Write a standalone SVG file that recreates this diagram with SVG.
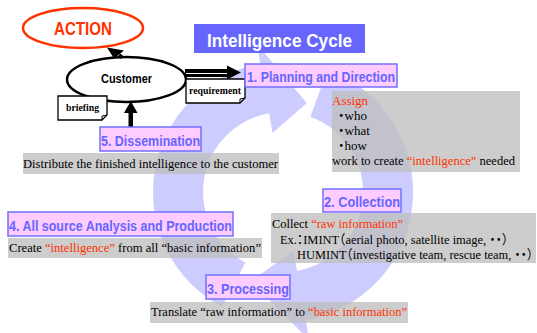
<svg xmlns="http://www.w3.org/2000/svg" width="537" height="333" viewBox="0 0 537 333">
<style>
.ring{fill:#ccccff;stroke:none}
.grey{fill:#bfbfbf;fill-opacity:0.78;stroke:none}
.step{fill:#ffccff;stroke:#7070ff;stroke-width:1.5}
.steptxt{font-family:"Liberation Sans","Noto Sans CJK JP",sans-serif;font-weight:bold;font-size:14px;fill:#6666ff}
.body{font-family:"Liberation Serif","Noto Sans CJK JP",serif;font-size:13px;fill:#000;font-feature-settings:"halt"}
.red{fill:#ff3300}
.note{fill:#fff;stroke:#000;stroke-width:1.3}
.notetxt{font-family:"Liberation Serif",serif;font-weight:bold;font-size:10px;fill:#000}
</style>
<rect width="537" height="333" fill="#fff"/>
<g id="cycle-ring">
<path class="ring" d="M245.4,262.6 L222.0,306.8 A130,130 0 0 1 260.4,64.0 L257.0,44.3 L306.8,103.1 L272.6,132.9 L269.1,113.2 A80,80 0 0 0 245.4,262.6 Z"/>
<path class="ring" d="M310.4,116.8 L327.5,69.8 A130,130 0 0 1 305.6,320.0 L309.0,339.7 L250.5,281.3 L293.4,251.1 L296.9,270.8 A80,80 0 0 0 310.4,116.8 Z"/>
</g>
<g id="title">
<rect x="194" y="24" width="171" height="29" fill="#6666ff"/>
<text x="207" y="47" font-family="Liberation Sans, sans-serif" font-weight="bold" font-size="19" fill="#fff" textLength="145" lengthAdjust="spacingAndGlyphs">Intelligence Cycle</text>
</g>
<g id="action">
<ellipse cx="83" cy="28" rx="60" ry="20" fill="#fff" stroke="#ff3300" stroke-width="2.5"/>
<text x="54" y="35" font-family="Liberation Sans, sans-serif" font-weight="bold" font-size="18" fill="#ff3300" textLength="58" lengthAdjust="spacingAndGlyphs">ACTION</text>
</g>
<g id="customer">
<ellipse cx="126.5" cy="79.5" rx="59.5" ry="22.5" fill="#fff" stroke="#000" stroke-width="2.5"/>
<text x="101" y="83" font-family="Liberation Sans, sans-serif" font-weight="bold" font-size="12" fill="#000" textLength="51" lengthAdjust="spacingAndGlyphs">Customer</text>
</g>
<g id="connectors">
<polygon points="107,47.5 124,50.5 114,58.5" fill="#000"/>
<path d="M119,55 L122,57.5" stroke="#000" stroke-width="4" fill="none"/>
<rect x="185" y="69" width="43" height="8" fill="#000"/>
<line x1="186" y1="73.5" x2="228" y2="73.5" stroke="#fff" stroke-width="1.2"/>
<polygon points="227,65.5 241,72.5 227,79.5" fill="#000"/>
<rect x="128.5" y="110" width="4.5" height="18" fill="#000"/>
<polygon points="124,113 130.8,101 137.5,113" fill="#000"/>
</g>
<g id="requirement-note">
<path class="note" d="M186,79 H245 V98 L240,103 H186 Z"/>
<path d="M245,98 L240,99 L240,103" fill="none" stroke="#000" stroke-width="1"/>
<text class="notetxt" x="189" y="94" textLength="52" lengthAdjust="spacingAndGlyphs">requirement</text>
</g>
<g id="briefing-note">
<path class="note" d="M58,96 H107 V115 L102,120 H58 Z"/>
<path d="M107,115 L102,116 L102,120" fill="none" stroke="#000" stroke-width="1"/>
<text class="notetxt" x="66" y="111" textLength="33" lengthAdjust="spacingAndGlyphs">briefing</text>
</g>
<g id="step1">
<rect class="step" x="245" y="64" width="152" height="23"/>
<text class="steptxt" x="247" y="82" textLength="148" lengthAdjust="spacingAndGlyphs">1. Planning and Direction</text>
<rect class="grey" x="332" y="91" width="188" height="81"/>
<text class="body red" x="332" y="105">Assign</text>
<text class="body" x="338" y="120">・who</text>
<text class="body" x="338" y="135">・what</text>
<text class="body" x="338" y="150">・how</text>
<text class="body" x="332" y="165" textLength="183" lengthAdjust="spacingAndGlyphs">work to create <tspan class="red">“intelligence”</tspan> needed</text>
</g>
<g id="step2">
<rect class="step" x="323" y="189" width="78" height="23"/>
<text class="steptxt" x="324" y="207" textLength="76" lengthAdjust="spacingAndGlyphs">2. Collection</text>
<rect class="grey" x="271" y="213" width="265" height="50"/>
<text class="body" x="272" y="228" textLength="131" lengthAdjust="spacingAndGlyphs">Collect <tspan class="red">“raw information”</tspan></text>
<text class="body" x="280" y="244" font-size="12" textLength="228" lengthAdjust="spacingAndGlyphs">Ex.：IMINT（aerial photo, satellite image, ・・）</text>
<text class="body" x="297" y="259" font-size="11" textLength="236" lengthAdjust="spacingAndGlyphs">HUMINT（investigative team, rescue team, ・・）</text>
</g>
<g id="step3">
<rect class="step" x="206" y="275" width="84" height="24"/>
<text class="steptxt" x="207" y="294" textLength="82" lengthAdjust="spacingAndGlyphs">3. Processing</text>
<rect class="grey" x="150" y="302" width="258" height="21"/>
<text class="body" x="151" y="316" textLength="256" lengthAdjust="spacingAndGlyphs">Translate “raw information” to <tspan class="red">“basic information”</tspan></text>
</g>
<g id="step4">
<rect class="step" x="8" y="212" width="225" height="24"/>
<text class="steptxt" x="9" y="231" textLength="223" lengthAdjust="spacingAndGlyphs">4. All source Analysis and Production</text>
<rect class="grey" x="8" y="238" width="254" height="20"/>
<text class="body" x="9" y="252" textLength="252" lengthAdjust="spacingAndGlyphs">Create <tspan class="red">“intelligence”</tspan> from all “basic information”</text>
</g>
<g id="step5">
<rect class="step" x="100" y="127" width="101" height="24"/>
<text class="steptxt" x="101" y="146" textLength="99" lengthAdjust="spacingAndGlyphs">5. Dissemination</text>
<rect class="grey" x="23" y="153" width="256" height="21"/>
<text class="body" x="23" y="168" textLength="255" lengthAdjust="spacingAndGlyphs">Distribute the finished intelligence to the customer</text>
</g>
</svg>
